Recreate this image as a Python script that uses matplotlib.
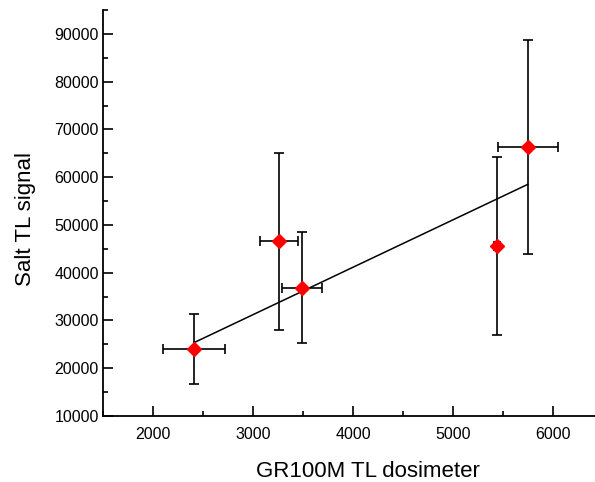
import matplotlib
matplotlib.use("Agg")
import matplotlib.pyplot as plt
from matplotlib.ticker import MultipleLocator

plt.rcParams['font.family'] = ['Liberation Sans', 'DejaVu Sans']

# GR100M dose vs salt TL signal
gr_dose = [2415, 3257, 3490, 5437, 5747]
gr_err = [310, 190, 200, 30, 300]
salt_tl = [24000, 46600, 36900, 45600, 66300]
salt_err = [7300, 18500, 11700, 18600, 22400]

# fitted line, end points
fit_x = [2415, 5747]
fit_y = [25400, 58500]

fig = plt.figure(figsize=(5.95, 4.82), dpi=100)
ax = fig.add_axes([0.173, 0.137, 0.827, 0.842])

ax.plot(fit_x, fit_y, color='black', lw=1.1, zorder=2)
ax.errorbar(gr_dose, salt_tl, xerr=gr_err, yerr=salt_err, fmt='D', color='red',
            markersize=7.5, ecolor='black', elinewidth=1.2, capsize=3.5, capthick=1.2,
            zorder=3)

ax.set_xlim(1500, 6420)
ax.set_ylim(10000, 95000)
ax.xaxis.set_major_locator(MultipleLocator(1000))
ax.xaxis.set_minor_locator(MultipleLocator(500))
ax.yaxis.set_major_locator(MultipleLocator(10000))
ax.yaxis.set_minor_locator(MultipleLocator(5000))
ax.set_xticks([2000, 3000, 4000, 5000, 6000])
ax.tick_params(which='major', direction='in', length=7, width=1.2, labelsize=11.5)
ax.tick_params(axis='y', which='major', pad=3)
ax.tick_params(axis='x', which='major', pad=8)
ax.tick_params(which='minor', direction='in', length=3.5, width=1.2)

for s in ['top', 'right']:
    ax.spines[s].set_visible(False)
for s in ['left', 'bottom']:
    ax.spines[s].set_linewidth(1.3)

ax.set_xlabel("GR100M TL dosimeter", fontsize=16)
ax.set_ylabel("Salt TL signal", fontsize=16)
ax.xaxis.set_label_coords(0.539, -0.112)
ax.yaxis.set_label_coords(-0.136, 0.486)

fig.savefig("out.png", dpi=100)
